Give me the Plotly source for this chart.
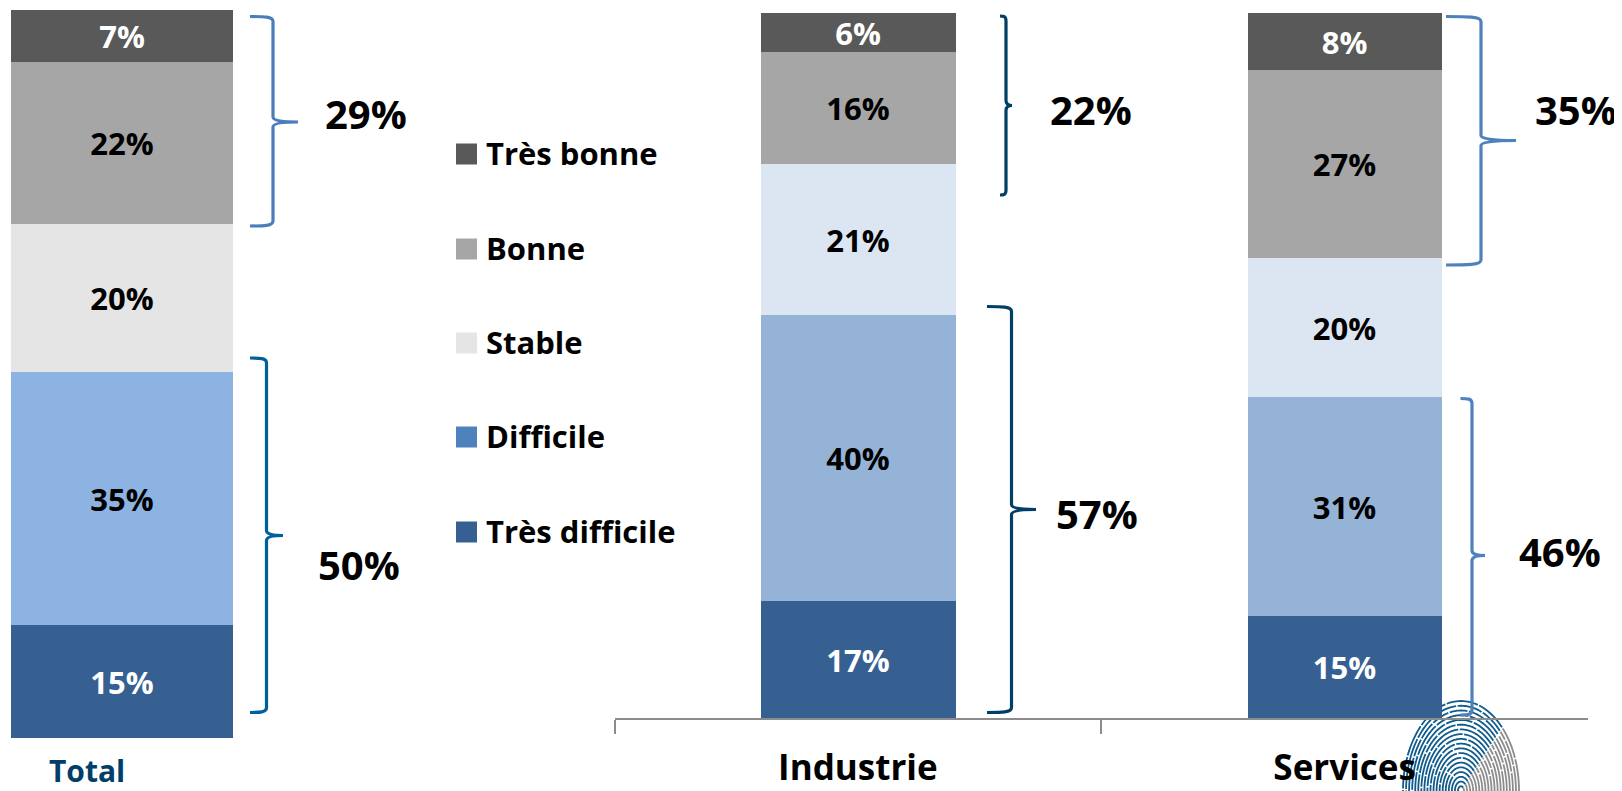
import math
import plotly.graph_objects as go

W, H = 1622, 791
OFF = 8  # the page body margin shifts the figure by this many pixels
FONT = "Open Sans"

# ---------- data ----------
series = ["Très difficile", "Difficile", "Stable", "Bonne", "Très bonne"]
total_values = [15.5, 34.8, 20.3, 22.3, 7.1]
total_labels = ["15%", "35%", "20%", "22%", "7%"]
sectors = ["Industrie", "Services"]
tres_difficile = [16.6, 14.5]
difficile = [40.5, 31.0]
stable = [21.5, 19.7]
bonne = [15.9, 26.7]
tres_bonne = [5.5, 8.1]
tres_difficile_labels = ["17%", "15%"]
difficile_labels = ["40%", "31%"]
stable_labels = ["21%", "20%"]
bonne_labels = ["16%", "27%"]
tres_bonne_labels = ["6%", "8%"]

total_colors = ["#376092", "#8db3e2", "#e5e5e5", "#a6a6a6", "#595959"]
sector_colors = ["#376092", "#95b3d7", "#dce6f2", "#a6a6a6", "#595959"]
legend_colors = ["#376092", "#4f81bd", "#e5e5e5", "#a6a6a6", "#595959"]
text_colors = ["white", "black", "black", "black", "white"]

PW, PH = W - OFF, H - OFF


def fx(px):
    return (px - OFF) / PW


def fy(py):
    return 1 - (py - OFF) / PH


def pt(px, py):
    return f"{fx(px):.5f},{fy(py):.5f}"


fig = go.Figure()

# Total panel
for s, v, l, c, tc in zip(series, total_values, total_labels, total_colors, text_colors):
    fig.add_trace(go.Bar(
        x=["Total"], y=[v], text=[l], name=s, xaxis="x", yaxis="y",
        marker=dict(color=c, line=dict(width=0)), showlegend=False,
        textposition="inside", insidetextanchor="middle", textangle=0,
        constraintext="none",
        textfont=dict(family=FONT, size=31, color=tc, weight="bold"),
        hoverinfo="skip",
    ))

# Sector panel
sector_series = [
    (tres_difficile, tres_difficile_labels),
    (difficile, difficile_labels),
    (stable, stable_labels),
    (bonne, bonne_labels),
    (tres_bonne, tres_bonne_labels),
]
for s, (v, l), c, tc in zip(series, sector_series, sector_colors, text_colors):
    fig.add_trace(go.Bar(
        x=sectors, y=v, text=l, name=s, xaxis="x2", yaxis="y2",
        marker=dict(color=c, line=dict(width=0)), showlegend=False, width=0.4,
        textposition="inside", insidetextanchor="middle", textangle=0,
        constraintext="none",
        textfont=dict(family=FONT, size=31, color=tc, weight="bold"),
        hoverinfo="skip",
    ))

shapes = []
annotations = []


def brace(x0, xr, xt, yt, ym, yb, color):
    r = 5
    p = (f"M{pt(x0, yt)} C{pt(x0 + 0.6 * (xr - x0), yt)} {pt(xr, yt)} {pt(xr, yt + r)} "
         f"L{pt(xr, ym - r)} Q{pt(xr, ym)} {pt(xt, ym)} "
         f"Q{pt(xr, ym)} {pt(xr, ym + r)} L{pt(xr, yb - r)} "
         f"C{pt(xr, yb)} {pt(x0 + 0.6 * (xr - x0), yb)} {pt(x0, yb)}")
    shapes.append(dict(type="path", xref="paper", yref="paper", path=p,
                       line=dict(color=color, width=3.2), layer="above"))


brace(250, 273, 298, 16.5, 122, 226, "#4a7ebb")
brace(250, 266.5, 283, 358, 535.5, 712.5, "#00609a")
brace(1000, 1006, 1012, 16, 105.5, 195, "#003f66")
brace(987, 1011.5, 1036, 306.5, 509.5, 712.5, "#003f66")
brace(1446, 1481, 1516, 16.5, 140.5, 265, "#4f81bd")
brace(1460.5, 1472, 1485, 398.5, 555.5, 715, "#4f81bd")

# Bracket totals
for txt, x, y in [("29%", 366, 113), ("50%", 359, 564), ("22%", 1091, 109),
                  ("57%", 1097, 513), ("35%", 1576, 110), ("46%", 1560, 551)]:
    annotations.append(dict(text=txt, xref="paper", yref="paper", x=fx(x), y=fy(y),
                            xanchor="center", yanchor="middle", showarrow=False,
                            font=dict(family=FONT, size=40, color="black", weight="bold")))

# Legend (top to bottom)
legend_y = [154, 249, 343, 437, 532]
for name, col, y in zip(series[::-1], legend_colors[::-1], legend_y):
    shapes.append(dict(type="rect", xref="paper", yref="paper",
                       x0=fx(456), x1=fx(477), y0=fy(y + 10.5), y1=fy(y - 10.5),
                       fillcolor=col, line=dict(width=0)))
    annotations.append(dict(text=name, xref="paper", yref="paper", x=fx(484), y=fy(y - 1),
                            xanchor="left", yanchor="middle", showarrow=False,
                            font=dict(family=FONT, size=31, color="black", weight="bold")))

# "Total" category label (kept just inside the page bottom)
annotations.append(dict(text="Total", xref="paper", yref="paper", x=fx(87), y=fy(770),
                        xanchor="center", yanchor="middle", showarrow=False,
                        font=dict(family=FONT, size=30, color="#004068", weight="bold")))

# Fingerprint watermark
cx, cy, rx, ry = 1461, 791, 58, 90
rings = 19
for i in range(1, rings + 1):
    t = i / rings
    dash = f"{14 + (i * 7) % 23}px,1.5px"
    for a0, a1, col in [(45, 180, "#0f5c8c"), (0, 44, "#8c8c8c")]:
        n = 60
        pts = []
        for k in range(n + 1):
            a = math.radians(a0 + (a1 - a0) * k / n)
            pts.append(pt(cx + rx * t * math.cos(a), cy - ry * t * math.sin(a)))
        shapes.append(dict(type="path", xref="paper", yref="paper",
                           path="M" + " L".join(pts),
                           line=dict(color=col, width=1.8, dash=dash), layer="below"))

hidden = dict(visible=False, fixedrange=True)
fig.update_layout(
    width=PW, height=PH, autosize=False,
    margin=dict(l=0, r=0, t=0, b=0),
    paper_bgcolor="white", plot_bgcolor="rgba(0,0,0,0)",
    barmode="stack", bargap=0,
    showlegend=False,
    font=dict(family=FONT),
    xaxis=dict(domain=[fx(11), fx(233)], range=[-0.5, 0.5], anchor="y", **hidden),
    yaxis=dict(domain=[fy(738), fy(10)], range=[0, 100], anchor="x", **hidden),
    xaxis2=dict(domain=[fx(614.5), fx(1588)], range=[-0.5, 1.5], anchor="y2",
                type="category", categoryorder="array", categoryarray=sectors,
                tickson="boundaries", ticks="outside", ticklen=14, tickwidth=2,
                tickcolor="#8c8c8c", showline=True, linecolor="#8c8c8c", linewidth=2,
                showgrid=False, zeroline=False, fixedrange=True, ticklabelstandoff=18,
                tickfont=dict(family=FONT, size=35, color="black", weight="bold")),
    yaxis2=dict(domain=[fy(718), fy(13)], range=[0, 100], anchor="x2", **hidden),
    shapes=shapes, annotations=annotations,
)

fig.write_html("out.html")
